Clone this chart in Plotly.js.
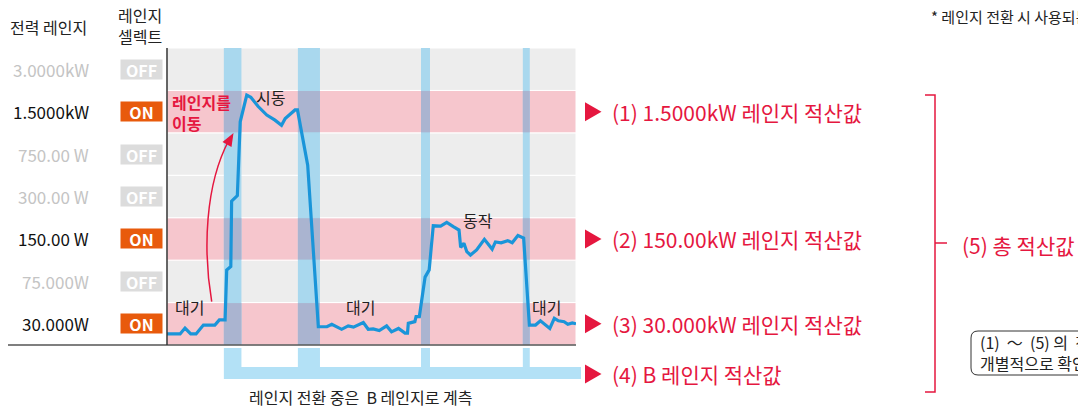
<!DOCTYPE html>
<html><head><meta charset="utf-8">
<script src="https://cdn.plot.ly/plotly-3.0.1.min.js"></script>
<style>html,body{margin:0;padding:0;background:#fff;}#chart{width:1078px;height:408px;}</style>
</head><body><div id="chart"></div>
<script>
// ---- data ----
const rangeLabels = ["30.000W","75.000W","150.00 W","300.00 W","750.00 W","1.5000kW","3.0000kW"];
const rangeSelect = ["ON","OFF","ON","OFF","OFF","ON","OFF"];
const rangeTotals = ["(3) 30.000kW 레인지 적산값", null, "(2) 150.00kW 레인지 적산값", null, null, "(1) 1.5000kW 레인지 적산값", null];
const bRangeTotal = "(4) B 레인지 적산값";
const grandTotal = "(5) 총 적산값";
const switchStart = [13.9, 32.0, 62.1, 87.0];
const switchEnd   = [18.2, 37.4, 64.3, 88.7];
const timeT = [0,3.2,4.4,5.8,7.1,8.9,11.7,12.8,14.2,14.6,15.6,15.8,17.2,17.9,19.5,20.5,22.3,24.4,26.4,28.0,28.9,31.3,31.9,34.4,37.0,39.1,40.3,42.7,44.3,45.6,48.0,49.2,50.4,51.9,53.7,54.9,56.6,58.2,58.8,59.0,60.6,60.9,61.7,63.1,64.1,65.1,66.9,68.4,70.0,71.4,71.8,72.6,73.3,74.2,75.7,77.6,79.5,80.3,81.7,83.3,84.4,85.8,87.2,88.6,90.1,91.3,93.6,94.7,95.7,97.1,98.0,99.1,100];
const power = [0.26,0.26,0.40,0.26,0.26,0.47,0.47,0.59,0.59,1.77,1.85,3.39,3.52,5.26,5.89,5.84,5.62,5.42,5.30,5.18,5.34,5.54,5.54,4.24,0.43,0.43,0.49,0.37,0.45,0.42,0.53,0.37,0.38,0.34,0.45,0.31,0.39,0.28,0.28,0.51,0.55,0.67,0.67,1.60,1.77,2.81,2.80,2.89,2.79,2.71,2.30,2.40,2.20,2.12,2.24,2.49,2.26,2.43,2.41,2.46,2.41,2.58,2.52,0.47,0.47,0.57,0.39,0.63,0.57,0.55,0.49,0.52,0.50];
const phaseNames = ["대기","시동","대기","동작","대기"];

// ---- layout helpers (pixel -> paper) ----
const L=167, R=576, T=48, B=345;
const px = x => (x-L)/(R-L);
const py = y => (B-y)/(B-T);
const P = (x,y) => px(x)+','+py(y);
const RED = '#e5173f';
const FONT = 'Noto Sans CJK KR, Noto Sans, sans-serif';

const shapes = [];
const annotations = [];

// rows
rangeLabels.forEach((lab,i)=>{
  const on = rangeSelect[i]==='ON';
  shapes.push({type:'rect',xref:'x',yref:'y',x0:0,x1:100,y0:i,y1:i+1,layer:'below',
    fillcolor: on?'#f6c6cd':'#ededed', line:{color:'#ffffff',width:1}});
  annotations.push({xref:'paper',yref:'y',x:px(91),y:i+0.5,xanchor:'right',yanchor:'middle',showarrow:false,
    text:lab,font:{size:17,color:on?'#111':'#c4c4c4'}});
  annotations.push({xref:'paper',yref:'y',x:px(141.5),y:i+0.5,xanchor:'center',yanchor:'middle',showarrow:false,
    text:'<b>'+rangeSelect[i]+'</b>',font:{size:16,color:'#fff'},bgcolor:on?'#e85a0c':'#dcdcdc',
    width:37,height:15,borderpad:2});
  if(rangeTotals[i]){
    annotations.push({xref:'paper',yref:'y',x:px(610),y:i+0.5,xanchor:'left',yanchor:'middle',showarrow:false,
      text:rangeTotals[i],font:{size:21,color:RED}});
  }
});
// red triangles at the row centres
function tri(yc){
  return {type:'path',xref:'paper',yref:'paper',fillcolor:RED,line:{width:0},
    path:'M'+P(585,yc-9.5)+' L'+P(601.5,yc)+' L'+P(585,yc+9.5)+' Z'};
}
rangeTotals.forEach((t,i)=>{ if(t) shapes.push(tri(B-(i+0.5)*(B-T)/7)); });
shapes.push(tri(374));
annotations.push({xref:'paper',yref:'paper',x:px(610),y:py(374),xanchor:'left',yanchor:'middle',showarrow:false,
  text:bRangeTotal,font:{size:21,color:RED}});

// switching bands
switchStart.forEach((s,k)=>{
  const e=switchEnd[k];
  shapes.push({type:'rect',xref:'x',yref:'y',x0:s,x1:e,y0:0,y1:7,layer:'below',fillcolor:'#a9d8ee',line:{width:0}});
  rangeSelect.forEach((st,i)=>{
    if(st==='ON') shapes.push({type:'rect',xref:'x',yref:'y',x0:s,x1:e,y0:i+0.012,y1:i+0.988,layer:'below',fillcolor:'#aab4d0',line:{width:0}});
  });
  shapes.push({type:'rect',xref:'x',yref:'paper',x0:s,x1:e,y0:py(379),y1:py(348),fillcolor:'#b3e1f6',line:{width:0}});
});
shapes.push({type:'rect',xref:'paper',yref:'paper',x0:px(224),x1:px(581),y0:py(379),y1:py(367),fillcolor:'#b3e1f6',line:{width:0}});

// axes lines
shapes.push({type:'line',xref:'paper',yref:'paper',x0:px(8),x1:px(576),y0:0,y1:0,line:{color:'#555',width:1.5}});
shapes.push({type:'line',xref:'paper',yref:'paper',x0:0,x1:0,y0:0,y1:1,line:{color:'#333',width:1.5}});

// bracket
shapes.push({type:'path',xref:'paper',yref:'paper',line:{color:RED,width:1.5},
  path:'M'+P(925,95)+' L'+P(935,95)+' L'+P(935,392)+' L'+P(925,392)});
shapes.push({type:'line',xref:'paper',yref:'paper',x0:px(935),x1:px(947),y0:py(243),y1:py(243),line:{color:RED,width:1.5}});
annotations.push({xref:'paper',yref:'paper',x:px(960),y:py(245),xanchor:'left',yanchor:'middle',showarrow:false,
  text:grandTotal,font:{size:21,color:RED}});

// note box (rounded, runs past the right edge like the reference)
(function(){
  const x0=971,x1=1110,y0=331,y1=375,r=7;
  shapes.push({type:'path',xref:'paper',yref:'paper',line:{color:'#333',width:1},fillcolor:'rgba(0,0,0,0)',
    path:'M'+P(x0+r,y0)+' L'+P(x1,y0)+' L'+P(x1,y1)+' L'+P(x0+r,y1)+' Q'+P(x0,y1)+' '+P(x0,y1-r)+' L'+P(x0,y0+r)+' Q'+P(x0,y0)+' '+P(x0+r,y0)+' Z'});
})();
annotations.push({xref:'paper',yref:'paper',x:px(978),y:py(352),xanchor:'left',yanchor:'middle',showarrow:false,align:'left',
  text:'(1)&nbsp; ～&nbsp; (5) 의&nbsp; 적산값을<br>개별적으로 확인 가능',font:{size:16,color:'#222'}});
annotations.push({xref:'paper',yref:'paper',x:px(929),y:py(16),xanchor:'left',yanchor:'middle',showarrow:false,
  text:'* 레인지 전환 시 사용되는 레인지',font:{size:15,color:'#222'}});

// headers
annotations.push({xref:'paper',yref:'paper',x:px(48),y:py(27),xanchor:'center',yanchor:'middle',showarrow:false,
  text:'전력 레인지',font:{size:16,color:'#222'}});
annotations.push({xref:'paper',yref:'paper',x:px(140),y:py(26),xanchor:'center',yanchor:'middle',showarrow:false,
  text:'레인지<br>셀렉트',font:{size:16,color:'#222'}});
annotations.push({xref:'paper',yref:'paper',x:px(360),y:py(397),xanchor:'center',yanchor:'middle',showarrow:false,
  text:'레인지 전환 중은  B 레인지로 계측',font:{size:16,color:'#222'}});

// phase labels
const phasePos = [[5.4,0.9],[25.2,5.85],[47.4,0.9],[76.0,2.95],[92.8,0.9]];
phaseNames.forEach((n,k)=>{
  annotations.push({xref:'x',yref:'y',x:phasePos[k][0],y:phasePos[k][1],xanchor:'center',yanchor:'middle',showarrow:false,
    text:n,font:{size:16,color:'#222'}});
});
annotations.push({xref:'x',yref:'y',x:0.8,y:5.48,xanchor:'left',yanchor:'middle',showarrow:false,align:'left',
  text:'<b>레인지를<br>이동</b>',font:{size:16,color:RED}});

// curved red arrow
shapes.push({type:'path',xref:'paper',yref:'paper',line:{color:RED,width:1.5},
  path:'M'+P(211.7,301.7)+' C'+P(203,250)+' '+P(205,185)+' '+P(229,140)});
shapes.push({type:'path',xref:'paper',yref:'paper',fillcolor:RED,line:{width:0},
  path:'M'+P(233.5,133)+' L'+P(231.5,147)+' L'+P(222.5,142)+' Z'});

const trace = {x:timeT,y:power,type:'scatter',mode:'lines',
  line:{color:'#1a95d9',width:3.2},hoverinfo:'skip'};

const layout = {
  width:1078,height:408,
  margin:{l:L,r:1078-R,t:T,b:408-B},
  paper_bgcolor:'#fff',plot_bgcolor:'#fff',
  font:{family:FONT,color:'#222'},
  showlegend:false,
  xaxis:{range:[0,100],visible:false,fixedrange:true},
  yaxis:{range:[0,7],visible:false,fixedrange:true},
  shapes:shapes,annotations:annotations
};
Plotly.newPlot('chart',[trace],layout,{staticPlot:true,displayModeBar:false});
</script></body></html>
